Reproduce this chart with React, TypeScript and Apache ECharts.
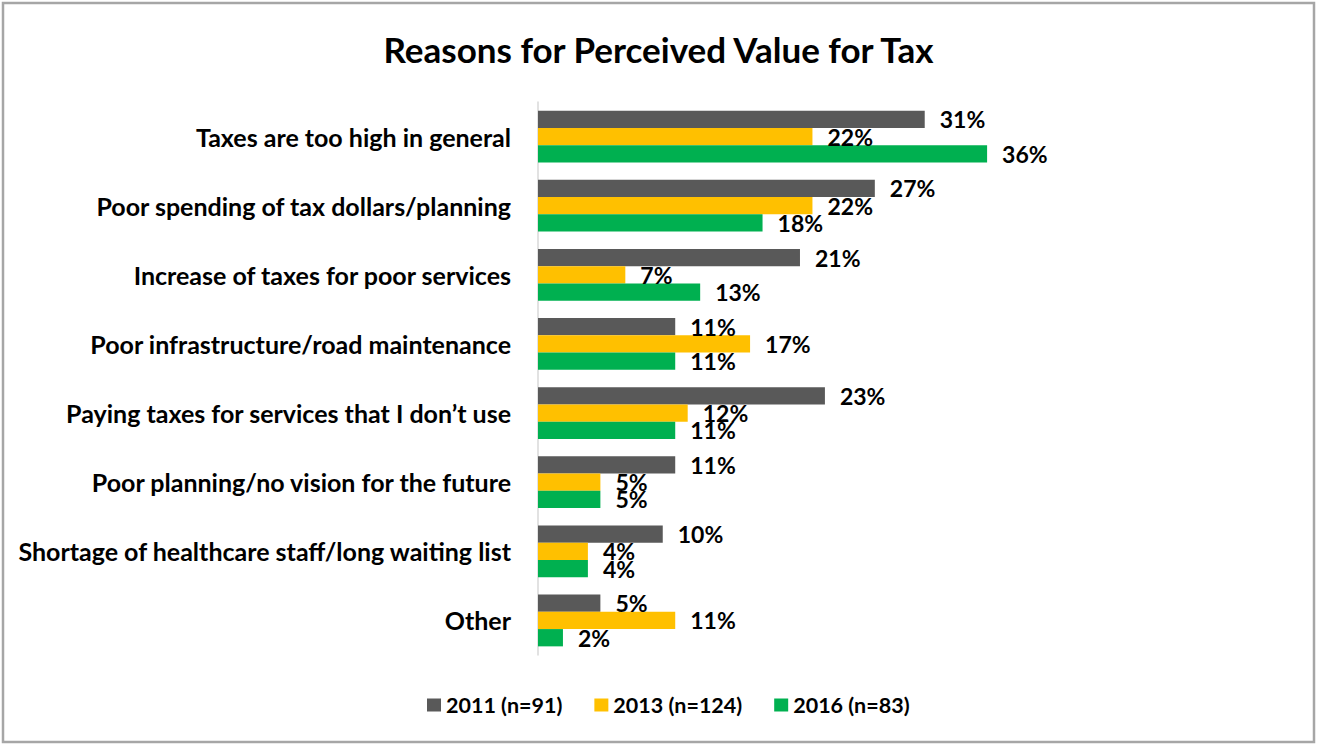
import React, { useEffect, useRef } from "react";
import * as echarts from "echarts";

const categories = [
  "Taxes are too high in general",
  "Poor spending of tax dollars/planning",
  "Increase of taxes for poor services",
  "Poor infrastructure/road maintenance",
  "Paying taxes for services that I don\u2019t use",
  "Poor planning/no vision for the future",
  "Shortage of healthcare staff/long waiting list",
  "Other",
];
const seriesNames = ["2011 (n=91)", "2013 (n=124)", "2016 (n=83)"];
const values2011 = [31, 27, 21, 11, 23, 11, 10, 5];
const values2013 = [22, 22, 7, 17, 12, 5, 4, 11];
const values2016 = [36, 18, 13, 11, 11, 5, 4, 2];
const colors = ["#595959", "#FFC000", "#00B050"];

const FONT = "Lato";

export default function App() {
  const ref = useRef<HTMLDivElement>(null);
  useEffect(() => {
    if (!ref.current) return;
    const chart = echarts.init(ref.current, undefined, { renderer: "svg" });
    const data = [values2011, values2013, values2016];
    chart.setOption({
      animation: false,
      backgroundColor: "#ffffff",
      title: {
        text: "Reasons for Perceived Value for Tax",
        left: "center",
        top: 26,
        textStyle: { fontFamily: FONT, fontWeight: "bold", fontSize: 35, color: "#000" },
      },
      graphic: [
        {
          type: "rect",
          shape: { x: 3, y: 3, width: 1311, height: 739 },
          style: { fill: "none", stroke: "#a6a6a6", lineWidth: 2.5 },
          silent: true,
        },
      ],
      legend: {
        bottom: 24,
        left: 422,
        itemWidth: 14,
        itemHeight: 13,
        itemGap: 32,
        icon: "rect",
        textStyle: { fontFamily: FONT, fontWeight: "bold", fontSize: 21.5, color: "#000" },
        data: seriesNames,
      },
      grid: { left: 538, right: 280, top: 102, height: 553, containLabel: false },
      xAxis: {
        type: "value",
        min: 0,
        max: 40,
        show: false,
      },
      yAxis: {
        type: "category",
        data: categories,
        inverse: true,
        axisLine: { show: true, lineStyle: { color: "#d9d9d9", width: 1.5 } },
        axisTick: { show: false },
        axisLabel: {
          fontFamily: FONT,
          fontWeight: "bold",
          fontSize: 25,
          color: "#000",
          margin: 27,
        },
      },
      series: seriesNames.map((name, i) => ({
        name,
        type: "bar",
        data: data[i],
        barGap: "0%",
        barCategoryGap: "25%",
        itemStyle: { color: colors[i] },
        label: {
          show: true,
          position: "right",
          distance: 15,
          formatter: "{c}%",
          fontFamily: FONT,
          fontWeight: "bold",
          fontSize: 23,
          color: "#000",
        },
      })),
    });
    return () => chart.dispose();
  }, []);
  return (
    <div
      ref={ref}
      style={{ position: "absolute", left: 0, top: 0, width: 1317, height: 745 }}
    />
  );
}
